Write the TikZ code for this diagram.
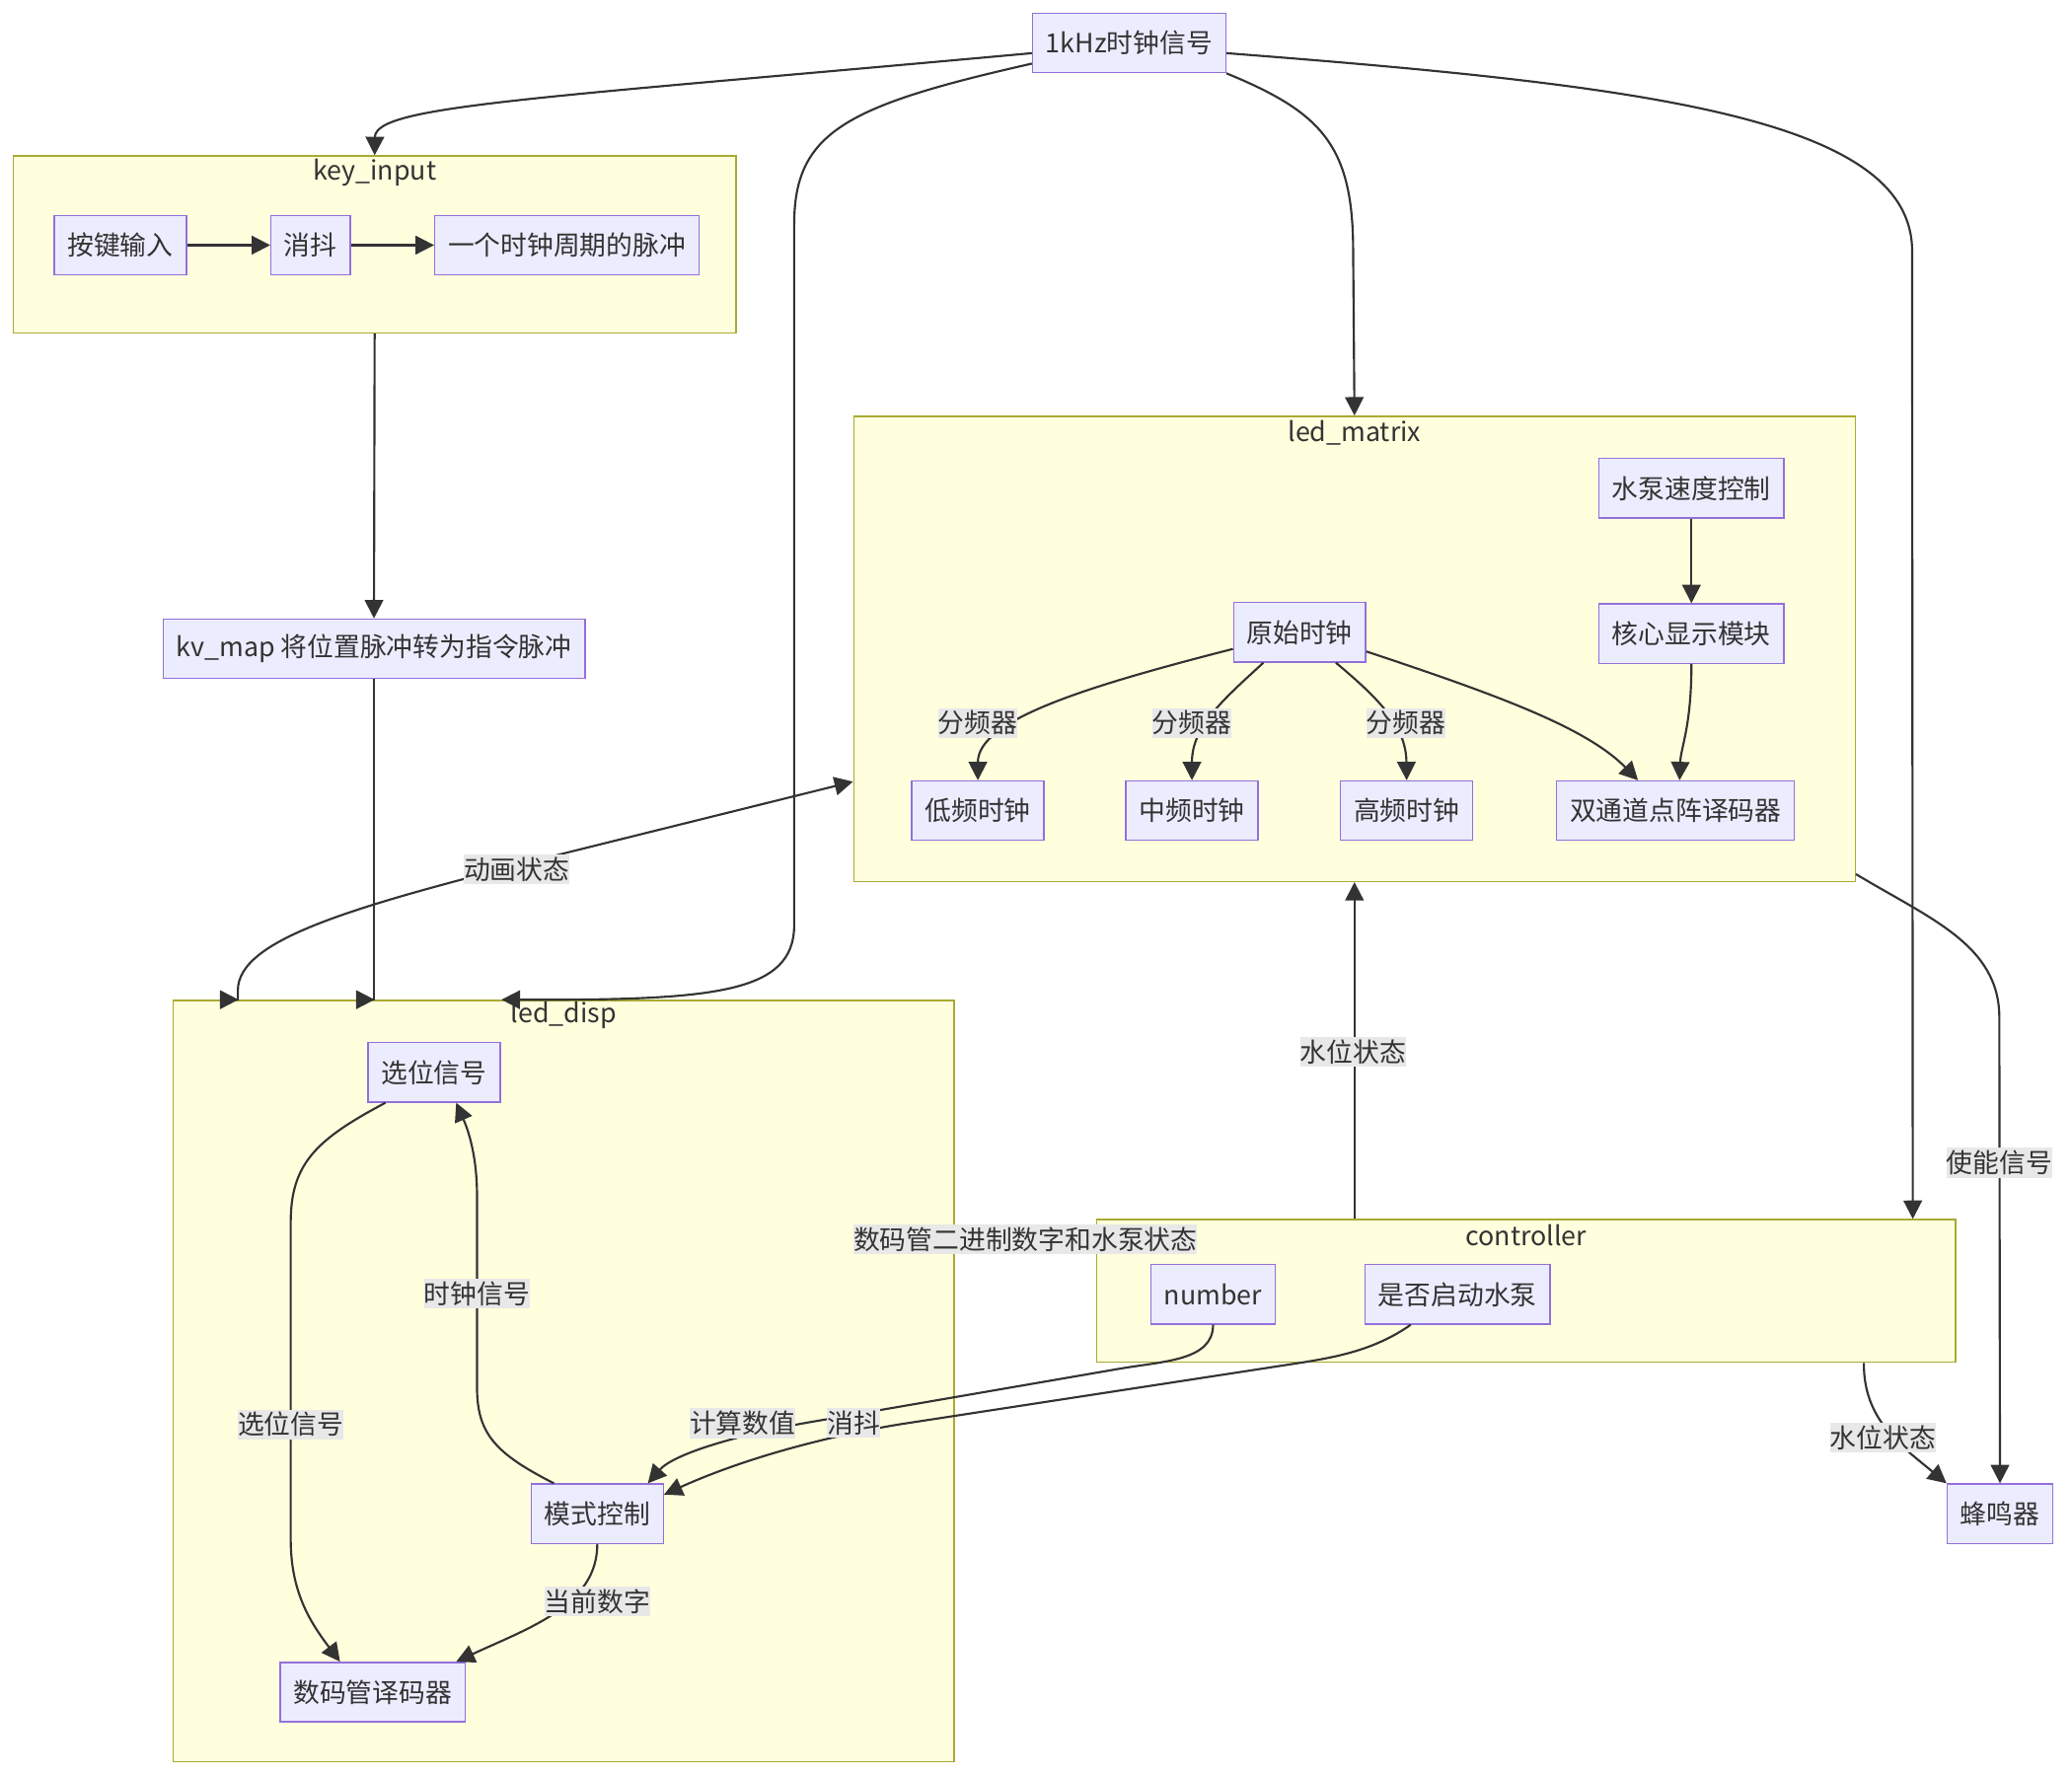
\documentclass[tikz,border=0pt]{standalone}
\usepackage{fontspec}
\setmainfont{Noto Sans CJK SC}
\usepackage{xcolor}
\usepackage{tikz}
\usetikzlibrary{arrows.meta,positioning,calc,fit}
\definecolor{nodefill}{HTML}{ECECFF}
\definecolor{nodeline}{HTML}{9370DB}
\definecolor{groupfill}{HTML}{FFFFDE}
\definecolor{groupline}{HTML}{AAAA33}
\definecolor{edgeline}{HTML}{333333}
\definecolor{labelfill}{HTML}{E8E8E8}
\tikzset{
	basic/.style = {font=\fontsize{15pt}{18pt}\selectfont, text=edgeline},
	box/.style = {basic, rectangle, draw=nodeline, fill=nodefill, line width=0.75pt, inner xsep=7.5pt, inner ysep=0pt, minimum height=33.75pt},
	group/.style = {rectangle, draw=groupline, fill=groupfill, line width=0.75pt, inner sep=0pt},
	grouptitle/.style = {basic, inner sep=0pt},
	elabel/.style = {basic, fill=labelfill, inner xsep=0pt, inner ysep=1.5pt},
	link/.style = {draw=edgeline, line width=1.2pt, ->},
	link2/.style = {draw=edgeline, line width=1.2pt, <->}
}

\begin{document}
\begin{tikzpicture}[x=0.75pt, y=0.75pt, >={Triangle[length=10.5pt,width=10.5pt]}]
	\useasboundingbox (0,0) rectangle (1568,-1344);

	% subgraphs
	\node[group, fit={(10,-118) (557,-252)}] (keyin) {};
	\node[group, fit={(646,-315) (1404,-667)}] (ledm) {};
	\node[group, fit={(131,-757) (722,-1333)}] (ledd) {};
	\node[group, fit={(830,-923) (1480,-1031)}] (ctrl) {};
	\node[grouptitle] (keyin-t) at ($(keyin.north)+(0,-13)$) {key\_input};
	\node[grouptitle] (ledm-t) at ($(ledm.north)+(0,-13)$) {led\_matrix};
	\node[grouptitle] (ledd-t) at ($(ledd.north)+(0,-12)$) {led\_disp};
	\node[grouptitle] (ctrl-t) at ($(ctrl.north)+(0,-12)$) {controller};

	% clock source
	\node[box] (clk) at (854.5,-32.5) {1kHz时钟信号};
	% key_input
	\node[box] (key) at (91,-185.5) {按键输入};
	\node[box, right=47.25pt of key] (deb) {消抖};
	\node[box, right=47.25pt of deb] (pulse) {一个时钟周期的脉冲};
	\node[box] (kvmap) at (283,-491) {kv\_map 将位置脉冲转为指令脉冲};
	% led_matrix
	\node[box] (pump) at (1280,-369.5) {水泵速度控制};
	\node[box, below=48pt of pump] (core) {核心显示模块};
	\node[box] (raw) at (983.5,-478.5) {原始时钟};
	\node[box] (low) at (740,-613.5) {低频时钟};
	\node[box] (mid) at (902,-613.5) {中频时钟};
	\node[box] (high) at (1064.5,-613.5) {高频时钟};
	\node[box] (dec) at (1268,-613.5) {双通道点阵译码器};
	% led_disp
	\node[box] (sel) at (328.5,-811.5) {选位信号};
	\node[box] (mode) at (452,-1145.5) {模式控制};
	\node[box] (seg) at (282,-1280.5) {数码管译码器};
	% controller
	\node[box] (num) at (918,-979.5) {number};
	\node[box] (pumpon) at (1103,-979.5) {是否启动水泵};
	\node[box] (buzz) at (1513.5,-1145.5) {蜂鸣器};

	% clock fan-out
	\draw[link] (clk.186) .. controls (400,-75) and (284,-80) .. (keyin.north);
	\draw[link] (clk.192) .. controls (640,-80) and (601,-100) .. (601,-170) -- (601,-700)
		.. controls (601,-752) and (540,-757) .. ($(ledd.north west)+(249,0)$);
	\draw[link] (clk.south east) .. controls (1000,-85) and (1024,-110) .. (1024,-190) -- (ledm.north);
	\draw[link] (clk.354) .. controls (1250,-65) and (1447,-90) .. (1447,-190) -- ($(ctrl.north east)+(-33,0)$);

	% key path
	\draw[link] (key) -- (deb);
	\draw[link] (deb) -- (pulse);
	\draw[link] (keyin.south) -- (kvmap.north);
	\draw[link] (kvmap.south) -- (kvmap.south |- ledd.north) -- ++(0.5,0);
	\draw[link2] ($(ledd.north west)+(50,0)$) -- ++(-0.5,0) -- ++(0,7)
		.. controls (180,-710) and (270,-685) .. (430,-645) -- ($(ledm.south west)+(0,76)$);

	% led_matrix inside
	\draw[link] (pump) -- (core);
	\draw[link] (raw.194) .. controls (820,-520) and (740,-545) .. (low.north);
	\draw[link] (raw.220) .. controls (925,-530) and (902,-550) .. (mid.north);
	\draw[link] (raw.320) .. controls (1045,-530) and (1064,-550) .. (high.north);
	\draw[link] (raw.344) .. controls (1130,-525) and (1200,-550) .. (dec.141);
	\draw[link] (core.south) .. controls (1280,-550) and (1272,-565) .. ($(dec.north)+(3,0)$);

	% controller outputs
	\draw[link] (ledm.south |- ctrl.north) -- (ledm.south);
	\draw[link] ($(ledm.south east)+(0,6)$) .. controls (1460,-695) and (1513,-715) .. (1513,-770) -- (buzz.north);
	\draw[link] ($(ctrl.south east)+(-70,0)$) .. controls (1410,-1075) and (1440,-1095) .. (buzz.north west);
	\draw[link] (num.south) .. controls (918,-1030) and (880,-1030) .. (846,-1036) -- (620,-1075)
		.. controls (560,-1085) and (510,-1100) .. (mode.31);
	\draw[link] (pumpon.213) .. controls (1040,-1022) and (1010,-1027) .. (986,-1031) -- (680,-1078)
		.. controls (620,-1088) and (560,-1105) .. (mode.16);

	% led_disp inside
	\draw[link] (sel.212) .. controls (240,-862) and (220,-880) .. (220,-925) -- (220,-1165)
		.. controls (220,-1205) and (235,-1228) .. (seg.137);
	\draw[link] (mode.145) .. controls (375,-1100) and (361,-1085) .. (361,-1050) -- (361,-905)
		.. controls (361,-870) and (352,-850) .. (sel.306);
	\draw[link] (mode.south) .. controls (452,-1215) and (400,-1232) .. (seg.20);

	% edge labels
	\node[elabel] (lf1) at (740,-547) {分频器};
	\node[elabel] (lf2) at (902,-547) {分频器};
	\node[elabel] (lf3) at (1064,-547) {分频器};
	\node[elabel] (lanim) at (391,-658) {动画状态};
	\node[elabel] (llevel1) at (1024,-796) {水位状态};
	\node[elabel] (lenable) at (1513,-880) {使能信号};
	\node[elabel] (llevel2) at (1425,-1088) {水位状态};
	\node[elabel] (lclock) at (361,-979) {时钟信号};
	\node[elabel] (lsel) at (220,-1078) {选位信号};
	\node[elabel] (lcur) at (452,-1212) {当前数字};
	\node[elabel] (lcalc) at (562,-1077) {计算数值};
	\node[elabel] (ldeb) at (646,-1077) {消抖};
	\node[elabel] (lbin) at (776,-938) {数码管二进制数字和水泵状态};
\end{tikzpicture}
\end{document}
